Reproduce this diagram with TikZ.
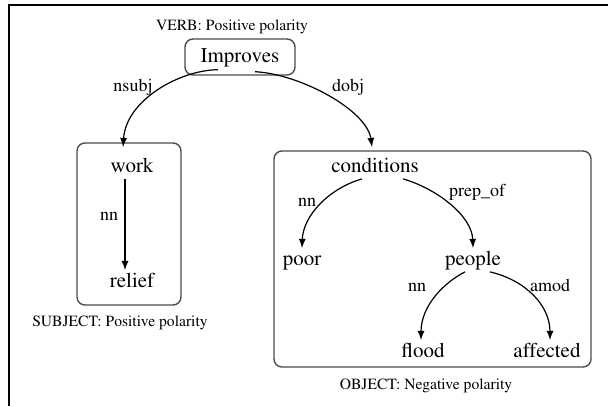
\documentclass[tikz,border=0pt]{standalone}
\usepackage[T1]{fontenc}
\usepackage{mathptmx}
\usepackage{tikz}

\begin{document}
\begin{tikzpicture}[x=0.5pt,y=-0.5pt,>=latex,
    every node/.style={inner sep=1pt},
    word/.style={font=\usefont{T1}{ptm}{m}{n}\fontsize{10.5}{12}\selectfont,text height=7.5pt,text depth=2pt},
    rel/.style={font=\usefont{T1}{ptm}{m}{n}\fontsize{9}{10}\selectfont},
    polcap/.style={font=\usefont{T1}{ptm}{m}{n}\fontsize{7.8}{9}\selectfont},
    dep/.style={->,line width=0.6pt},
    grp/.style={draw=black!70,line width=0.7pt,rounded corners=4pt}]
    \useasboundingbox (0,0) rectangle (608,406);
    % frame
    \draw[line width=0.8pt] (9,406) -- (9,5) -- (608,5);

    % verb
    \node[polcap] (verbcap) at (232,27) {VERB: Positive polarity};
    \node[word,grp,minimum width=55pt,minimum height=18pt] (improves) at (240,57) {Improves};

    % subject group
    \draw[grp] (77,143) rectangle (181,305);
    \node[word] (work) at (132,167) {work};
    \node[word] (relief) at (132,282) {relief};
    \node[polcap] (subjcap) at (120,323) {SUBJECT: Positive polarity};

    % object group
    \draw[grp] (274,151) rectangle (591,367);
    \node[word] (conditions) at (375,167) {conditions};
    \node[word] (poor) at (302,260) {poor};
    \node[word] (people) at (473,260) {people};
    \node[word] (flood) at (423,352) {flood};
    \node[word] (affected) at (547,352) {affected};
    \node[polcap] (objcap) at (426,386) {OBJECT: Negative polarity};

    % dependencies
    \draw[dep] ([xshift=-11pt,yshift=3pt]improves.south) .. controls (180,70) and (126,100) .. ([xshift=-4.5pt,yshift=4pt]work.north);
    \draw[dep] ([xshift=7.5pt,yshift=2pt]improves.south) .. controls (300,74) and (367,110) .. ([xshift=-1.5pt,yshift=4pt]conditions.north);
    \draw[dep] ([xshift=-3.5pt]work.south) -- ([xshift=-3.5pt]relief.north);
    \draw[dep] ([xshift=-6.5pt]conditions.south) .. controls (330,188) and (303,215) .. (poor.north);
    \draw[dep] ([xshift=14pt]conditions.south) .. controls (435,188) and (472,215) .. (people.north);
    \draw[dep] ([xshift=-4pt]people.south) .. controls (445,282) and (421,305) .. ([xshift=-1pt]flood.north);
    \draw[dep] ([xshift=8.5pt]people.south) .. controls (525,280) and (550,305) .. ([xshift=1.5pt]affected.north);

    % relation labels
    \node[rel] (nsubj) at (133,87) {nsubj};
    \node[rel] (dobj) at (348,87) {dobj};
    \node[rel] (nnwork) at (109,216) {nn};
    \node[rel] (nnpoor) at (307,202) {nn};
    \node[rel] (prepof) at (477,192) {prep\_of};
    \node[rel] (nnflood) at (417,287) {nn};
    \node[rel] (amod) at (550,285) {amod};
  \end{tikzpicture}
\end{document}
